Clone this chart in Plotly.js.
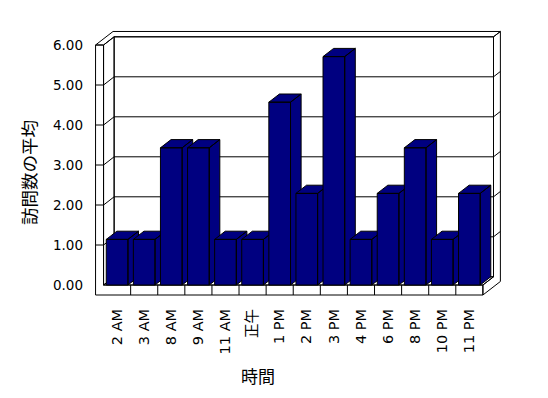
<!DOCTYPE html>
<html>
<head>
<meta charset="utf-8">
<script src="https://cdn.plot.ly/plotly-3.0.1.min.js"></script>
<style>html,body{margin:0;padding:0;background:#fff;}#chart{width:548px;height:398px;}</style>
</head>
<body>
<div id="chart"></div>
<script>
// ---- data ----
const categories = ['2 AM','3 AM','8 AM','9 AM','11 AM','正午','1 PM','2 PM','3 PM','4 PM','6 PM','8 PM','10 PM','11 PM'];
const avgVisits  = [1.14, 1.14, 3.43, 3.43, 1.14, 1.14, 4.57, 2.29, 5.71, 1.14, 2.29, 3.43, 1.14, 2.29];
const yTickValues = [0, 1, 2, 3, 4, 5, 6];
const yTickLabels = ['0.00','1.00','2.00','3.00','4.00','5.00','6.00'];
const xTitle = '時間';
const yTitle = '訪問数の平均';

// ---- 3D look (oblique projection in data units) ----
const DX = 0.391;      // category units per full depth
const DY = 0.205;      // value units per full depth
const BAR_W = 0.8;
const WALL_T = 0.295;  // left wall thickness (categories)
const FLOOR_T = 0.25;  // floor thickness (values)
const BACK_T = 1.65;   // back wall outer depth
const N = categories.length;
const C0 = -0.5, C1 = N - 0.5;
const VTOP = yTickValues[yTickValues.length - 1];

const NAVY = '#000080';

function P(c, v, d) { return [c + d * DX, v + d * DY]; }
function polys(list) {
  const x = [], y = [];
  list.forEach((pts, k) => {
    if (k) { x.push(null); y.push(null); }
    pts.concat([pts[0]]).forEach(p => { x.push(p[0]); y.push(p[1]); });
  });
  return {x, y};
}
function segs(list) {
  const x = [], y = [];
  list.forEach((s, k) => {
    if (k) { x.push(null); y.push(null); }
    s.forEach(p => { x.push(p[0]); y.push(p[1]); });
  });
  return {x, y};
}
function fillTrace(g, color) {
  return {type: 'scatter', mode: 'lines', x: g.x, y: g.y, fill: 'toself',
    fillcolor: color, line: {color: '#000', width: 1}, hoverinfo: 'skip', showlegend: false};
}
function lineTrace(g) {
  return {type: 'scatter', mode: 'lines', x: g.x, y: g.y,
    line: {color: '#000', width: 1}, hoverinfo: 'skip', showlegend: false};
}

const CL = C0 - WALL_T, VB = -FLOOR_T;
const traces = [];

// walls and floor
traces.push(fillTrace(polys([
  [P(CL,VTOP,0), P(C0,VTOP,0), P(C0,VTOP,1), P(C1,VTOP,1), P(C1,VTOP,BACK_T), P(CL,VTOP,BACK_T)],
  [P(C0,0,1), P(C1,0,1), P(C1,VTOP,1), P(C0,VTOP,1)],
  [P(C1,VB,0), P(C1,0,0), P(C1,0,1), P(C1,VTOP,1), P(C1,VTOP,BACK_T), P(C1,VB,BACK_T)],
  [P(C0,0,0), P(C0,VTOP,0), P(C0,VTOP,1), P(C0,0,1)],
  [P(CL,VB,0), P(C1,VB,0), P(C1,0,0), P(C0,0,0), P(C0,VTOP,0), P(CL,VTOP,0)],
  [P(C0,0,0), P(C1,0,0), P(C1,0,1), P(C0,0,1)]
]), '#ffffff'));

// gridlines and ticks
const gl = [];
yTickValues.forEach(v => {
  if (v > 0 && v < VTOP) {
    gl.push([P(C0,v,1), P(C1,v,1)]);
    gl.push([P(C0,v,0), P(C0,v,1)]);
    gl.push([P(C1,v,1), P(C1,v,BACK_T)]);
    gl.push([P(CL,v,0), P(C0,v,0)]);
  }
});
for (let k = 1; k < N; k++) gl.push([P(C0 + k, VB, 0), P(C0 + k, 0, 0)]);
traces.push(lineTrace(segs(gl)));

// bars, drawn left to right
avgVisits.forEach((v, i) => {
  const a = i - BAR_W / 2, b = i + BAR_W / 2;
  traces.push(fillTrace(polys([
    [P(a,0,0), P(b,0,0), P(b,v,0), P(a,v,0)],
    [P(a,v,0), P(b,v,0), P(b,v,1), P(a,v,1)],
    [P(b,0,0), P(b,0,1), P(b,v,1), P(b,v,0)]
  ]), NAVY));
});

const FONT = 'DejaVu Sans, Noto Sans CJK JP, sans-serif';
const layout = {
  width: 548, height: 398,
  margin: {l: 90, r: 38, t: 25, b: 93, pad: 0},
  paper_bgcolor: '#fff', plot_bgcolor: '#fff',
  showlegend: false,
  font: {family: FONT, color: '#000', size: 13},
  xaxis: {range: [-1, 14.5], tickmode: 'array', tickvals: categories.map((c, i) => i), ticktext: categories,
    tickangle: -90, showgrid: false, zeroline: false, showline: false, ticks: '',
    tickfont: {family: FONT, size: 14.5, color: '#000'}, fixedrange: true},
  yaxis: {range: [-0.5, 6.5], tickmode: 'array', tickvals: yTickValues, ticktext: yTickLabels,
    showgrid: false, zeroline: false, showline: false, ticks: '', ticklabelstandoff: 6,
    tickfont: {family: FONT, size: 13.5, color: '#000'}, fixedrange: true},
  annotations: [
    {text: yTitle, xref: 'paper', yref: 'paper', x: (28 - 90) / 420, y: (305 - 173) / 280,
      xanchor: 'center', yanchor: 'middle',
      textangle: -90, showarrow: false, font: {family: 'Noto Sans CJK JP', size: 17.5, color: '#000'}},
    {text: xTitle, xref: 'paper', yref: 'paper', x: (258 - 90) / 420, y: (305 - 375) / 280,
      xanchor: 'center', yanchor: 'middle',
      showarrow: false, font: {family: 'Noto Sans CJK JP', size: 17, color: '#000'}}
  ]
};
Plotly.newPlot('chart', traces, layout, {staticPlot: true, displayModeBar: false});
</script>
</body>
</html>
